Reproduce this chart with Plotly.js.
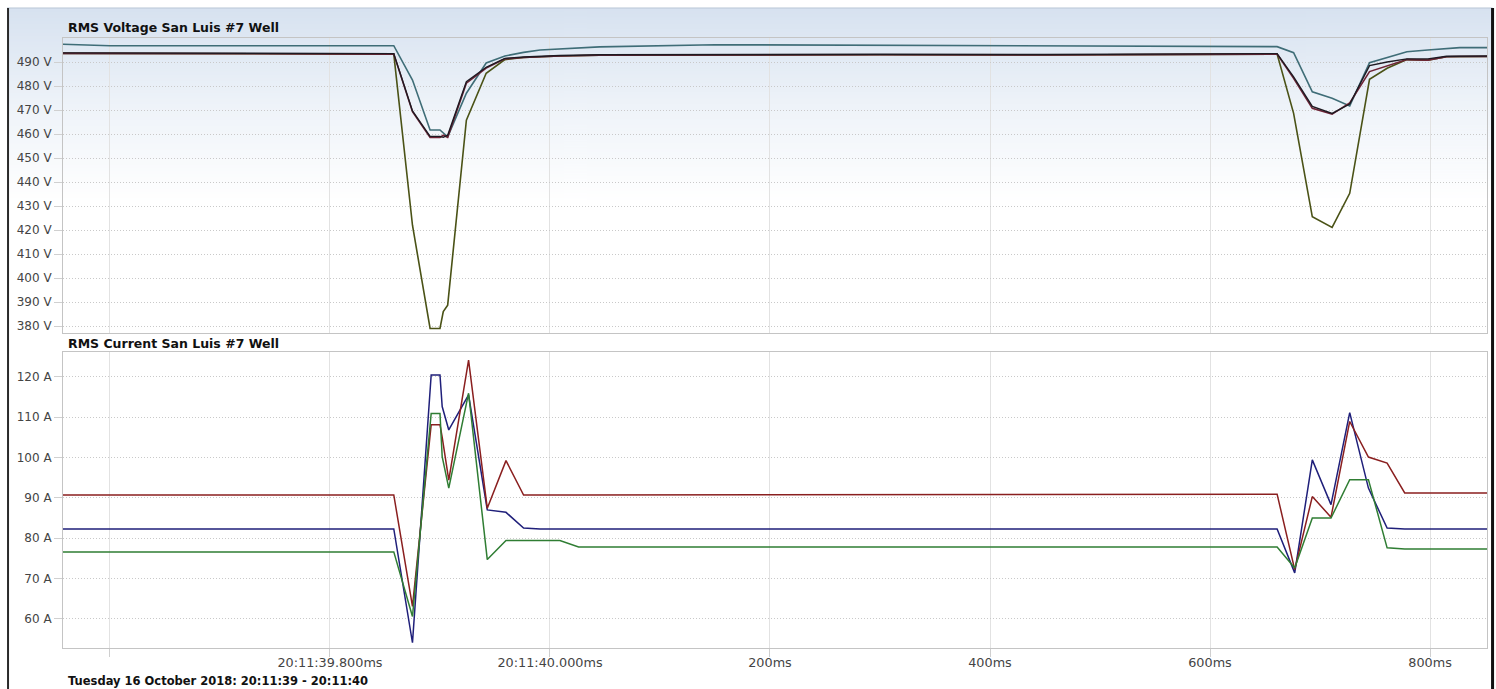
<!DOCTYPE html>
<html><head><meta charset="utf-8">
<script src="https://cdn.plot.ly/plotly-3.0.1.min.js"></script>
<style>html,body{margin:0;padding:0;background:#fff;overflow:hidden;} #chart{width:1496px;height:689px;}</style>
</head><body><div id="chart"></div>
<script>
// Time in ms after 20:11:39.000
const voltageTimeMs = [557, 600, 727, 858, 875, 891, 900, 903, 907, 924, 942, 959, 976, 991, 1009, 1045, 1150, 1300, 1450, 1600, 1661, 1676, 1693, 1711, 1727, 1745, 1761, 1779, 1798, 1815, 1827, 1852];
const voltageTeal   = [497.4, 496.8, 496.8, 496.8, 482.5, 461.7, 461.7, 460.5, 458.8, 477.0, 489.6, 492.5, 494.0, 495.0, 495.5, 496.3, 497.2, 497.0, 496.8, 496.6, 496.4, 493.9, 477.6, 474.9, 471.7, 489.7, 492.0, 494.3, 495.0, 495.5, 496.0, 496.0];
const voltageMaroon = [493.6, 493.6, 493.3, 493.3, 469.3, 458.6, 458.6, 459.5, 458.6, 481.2, 487.5, 491.3, 491.9, 492.2, 492.5, 492.8, 493.0, 493.0, 492.9, 493.1, 493.3, 483.2, 470.7, 468.3, 473.0, 486.0, 488.5, 491.0, 490.8, 492.2, 492.3, 492.3];
const voltageBlack  = [493.8, 493.8, 493.5, 493.5, 469.6, 459.0, 459.0, 458.6, 459.5, 481.8, 487.8, 491.5, 492.1, 492.4, 492.7, 493.0, 493.2, 493.2, 493.1, 493.3, 493.5, 483.8, 471.5, 468.6, 472.5, 488.5, 490.0, 491.3, 491.3, 492.4, 492.5, 492.5];
const voltageOlive  = [493.6, 493.6, 493.3, 493.3, 422.0, 379.0, 379.0, 386.0, 388.7, 465.8, 485.3, 491.0, 491.9, 492.2, 492.5, 492.8, 493.0, 493.0, 492.9, 493.1, 493.3, 468.6, 425.5, 421.1, 435.3, 482.8, 487.4, 491.0, 490.8, 492.2, 492.3, 492.3];

const currentTimeMs = [557, 858, 875, 892, 900, 902, 908, 926, 943, 960, 976, 991, 1009, 1026, 1661, 1677, 1693, 1710, 1727, 1744, 1761, 1777, 1852];
const currentRed   = [90.7, 90.7, 63.1, 108.1, 108.1, 105.0, 94.4, 124.1, 87.4, 99.2, 90.7, 90.7, 90.7, 90.7, 90.9, 72.2, 90.3, 85.2, 108.9, 100.1, 98.6, 91.2, 91.2];
const currentNavy  = [82.3, 82.3, 54.1, 120.4, 120.4, 112.6, 106.8, 115.5, 87.0, 86.4, 82.5, 82.3, 82.3, 82.3, 82.3, 71.4, 99.4, 88.3, 111.1, 92.4, 82.5, 82.3, 82.3];
const currentGreen = [76.6, 76.6, 60.6, 110.9, 110.9, 100.2, 92.4, 115.9, 74.7, 79.4, 79.4, 79.4, 79.4, 77.8, 77.8, 72.6, 85.0, 85.0, 94.5, 94.5, 77.6, 77.3, 77.3];

const xTickVals = [600, 800, 1000, 1200, 1400, 1600, 1800];
const xTickText = ['', '20:11:39.800ms', '20:11:40.000ms', '200ms', '400ms', '600ms', '800ms'];
const voltTicks = [380, 390, 400, 410, 420, 430, 440, 450, 460, 470, 480, 490];
const currTicks = [60, 70, 80, 90, 100, 110, 120];

const voltageTitle = 'RMS Voltage San Luis #7 Well';
const currentTitle = 'RMS Current San Luis #7 Well';
const dateTitle = 'Tuesday 16 October 2018: 20:11:39 - 20:11:40';

// gradient background image
const cv = document.createElement('canvas'); cv.width = 4; cv.height = 256;
const ctx = cv.getContext('2d');
const g = ctx.createLinearGradient(0, 0, 0, 256);
g.addColorStop(0, '#d7e2f0'); g.addColorStop(0.5, '#eef3f9'); g.addColorStop(1, '#ffffff');
ctx.fillStyle = g; ctx.fillRect(0, 0, 4, 256);
const gradUrl = cv.toDataURL();

function line(x, y, color, xa, ya, w) {
  return {x: x, y: y, type: 'scatter', mode: 'lines', xaxis: xa, yaxis: ya,
          line: {color: color, width: w || 1.5}, hoverinfo: 'skip', showlegend: false};
}

const data = [
  line(voltageTimeMs, voltageTeal, '#3f6d77', 'x', 'y', 1.6),
  line(voltageTimeMs, voltageOlive, '#4a5216', 'x', 'y', 1.6),
  line(voltageTimeMs, voltageMaroon, '#6e2436', 'x', 'y', 1.6),
  line(voltageTimeMs, voltageBlack, '#1e1a22', 'x', 'y', 1.4),
  line(currentTimeMs, currentNavy, '#1f1f7a', 'x2', 'y2', 1.5),
  line(currentTimeMs, currentRed, '#8a1f1f', 'x2', 'y2', 1.5),
  line(currentTimeMs, currentGreen, '#2f7d33', 'x2', 'y2', 1.5)
];

const FAM = 'DejaVu Sans, Verdana, sans-serif';
const font = {family: FAM, size: 12, color: '#444'};
const xRange = [557.3, 1851.8];
const xCommon = {range: xRange, tickvals: xTickVals, ticktext: xTickText, showgrid: true,
  gridcolor: '#e2e2e2', gridwidth: 1, zeroline: false, showline: true, mirror: true,
  linecolor: '#c4c4c4', linewidth: 1, ticks: 'outside', ticklen: 8, tickcolor: '#cfcfcf', fixedrange: true};
const yCommon = {showgrid: true, gridcolor: '#c9c9c9', griddash: '1px,2px', gridwidth: 1, zeroline: false,
  showline: true, mirror: true, linecolor: '#c4c4c4', linewidth: 1, ticks: 'outside', ticklen: 8,
  tickcolor: '#d0d0d0', fixedrange: true, tickfont: font};

const layout = {
  width: 1496, height: 689,
  margin: {l: 63, r: 9, t: 38, b: 41, pad: 0},
  paper_bgcolor: '#ffffff', plot_bgcolor: 'rgba(0,0,0,0)',
  font: font,
  xaxis: Object.assign({}, xCommon, {anchor: 'y', showticklabels: false, ticks: ''}),
  xaxis2: Object.assign({}, xCommon, {anchor: 'y2', matches: 'x', ticklabelstandoff: -5,
    tickfont: {family: FAM, size: 12.8, color: '#444'}}),
  yaxis: Object.assign({}, yCommon, {domain: [0.5164, 1], range: [377.1, 500], tickvals: voltTicks,
    ticktext: voltTicks.map(v => v + ' V')}),
  yaxis2: Object.assign({}, yCommon, {domain: [0, 0.4852], range: [52.8, 126.1], tickvals: currTicks,
    ticktext: currTicks.map(v => v + ' A')}),
  images: [{source: gradUrl, xref: 'paper', yref: 'paper', x: -0.0393, y: 1.0492, sizex: 1.0428,
    sizey: 0.315, sizing: 'stretch', xanchor: 'left', yanchor: 'top', layer: 'below'}],
  shapes: [
    {type: 'line', xref: 'paper', yref: 'paper', x0: -0.0393, x1: 1.0039, y0: 1.0492, y1: 1.0492,
      line: {color: '#b9c6d6', width: 1}},
    {type: 'line', xref: 'paper', yref: 'paper', x0: -0.0386, x1: -0.0386, y0: 1.0492, y1: -0.07,
      line: {color: '#2a2a2a', width: 2}},
    {type: 'line', xref: 'paper', yref: 'paper', x0: 1.0039, x1: 1.0039, y0: 1.0492, y1: -0.07,
      line: {color: '#111111', width: 3}}
  ],
  annotations: [
    {text: '<b>' + voltageTitle + '</b>', xref: 'paper', yref: 'paper', x: 0.0021, y: 1.0164,
      xanchor: 'left', yanchor: 'middle', showarrow: false,
      font: {family: FAM, size: 12.5, color: '#111'}},
    {text: '<b>' + currentTitle + '</b>', xref: 'paper', yref: 'paper', x: 0.0021, y: 0.4992,
      xanchor: 'left', yanchor: 'middle', showarrow: false,
      font: {family: FAM, size: 12.5, color: '#111'}},
    {text: '<b>' + dateTitle + '</b>', xref: 'paper', yref: 'paper', x: 0.0021, y: -0.0541,
      xanchor: 'left', yanchor: 'middle', showarrow: false,
      font: {family: FAM, size: 11.5, color: '#111'}}
  ]
};

Plotly.newPlot('chart', data, layout, {displayModeBar: false, staticPlot: true});
</script>
</body></html>
